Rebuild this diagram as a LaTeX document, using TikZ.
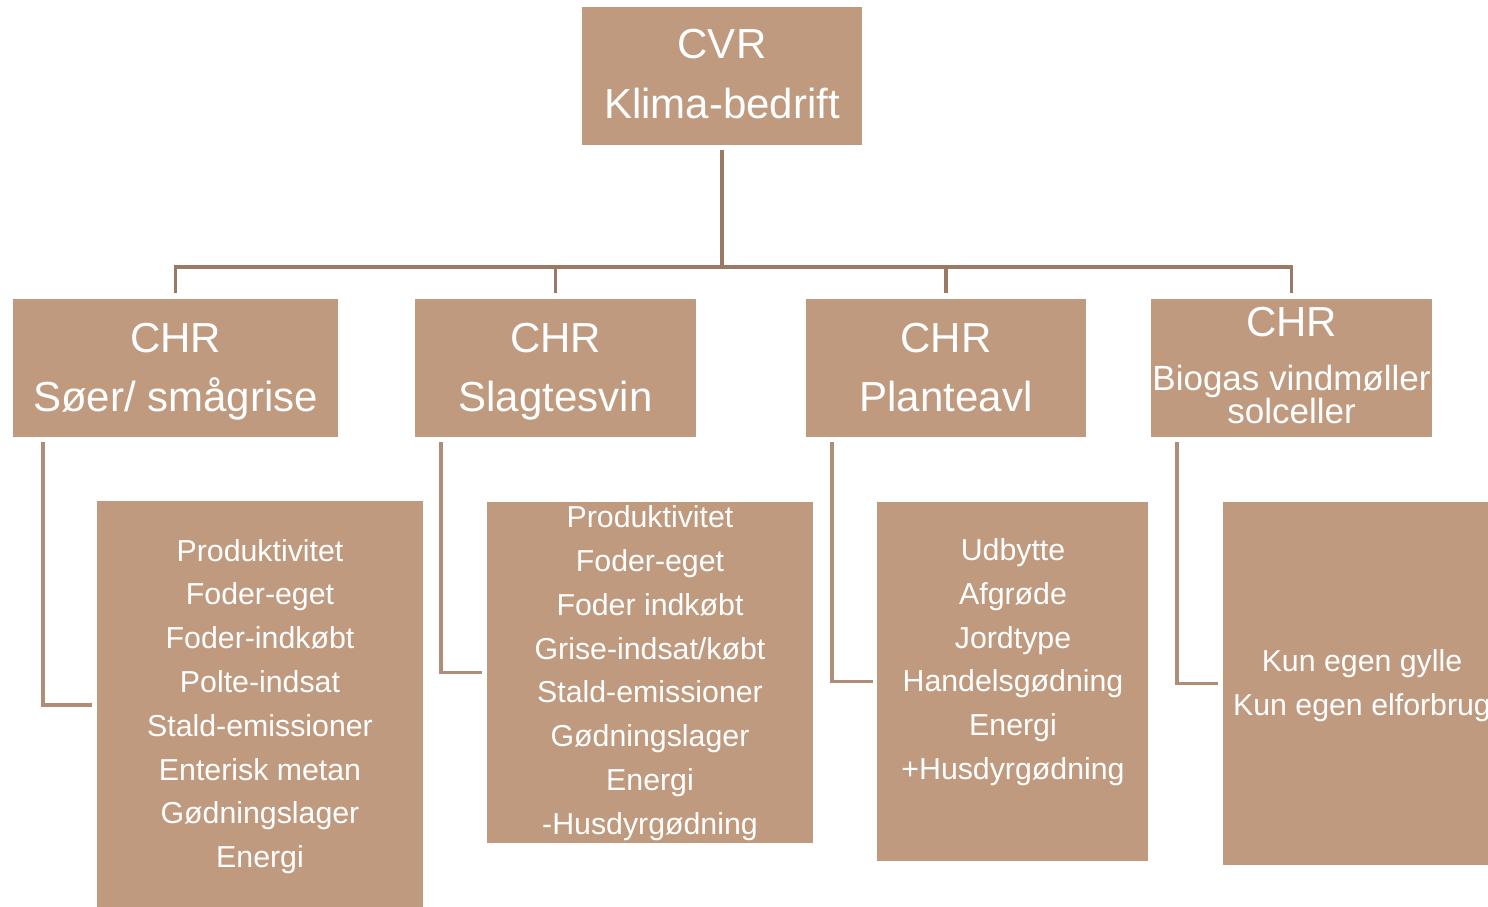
\documentclass[tikz,border=0pt]{standalone}
\usepackage{fontspec}
\setmainfont{Liberation Sans}
\definecolor{boxfill}{HTML}{BF9A7F}
\definecolor{toplinec}{HTML}{9A7A64}
\definecolor{sidelinec}{HTML}{B08D76}
\tikzset{
 boxnode/.style={fill=boxfill, draw=none, inner sep=0pt, outer sep=0pt},
 txt/.style={text=white, inner sep=0pt, anchor=base},
 big/.style={txt, font=\fontsize{42}{49}\selectfont},
 mid/.style={txt, font=\fontsize{35}{40}\selectfont},
 small/.style={txt, font=\fontsize{30.3}{36}\selectfont},
 topline/.style={draw=toplinec, line width=3.5pt},
 sideline/.style={draw=sidelinec, line width=3.5pt},
}
\begin{document}
\begin{tikzpicture}[x=1pt,y=-1pt]
\useasboundingbox (0,0) rectangle (1488,906);
\clip (0,0) rectangle (1488,906);
% boxes
\node[boxnode, minimum width=280pt, minimum height=138pt] (cvr) at (722,76) {};
\node[boxnode, minimum width=325pt, minimum height=138pt] (chr1) at (175.5,368) {};
\node[boxnode, minimum width=281pt, minimum height=138pt] (chr2) at (555.5,368) {};
\node[boxnode, minimum width=280pt, minimum height=138pt] (chr3) at (946,368) {};
\node[boxnode, minimum width=281pt, minimum height=138pt] (chr4) at (1291.5,368) {};
\node[boxnode, minimum width=326pt, minimum height=408pt] (d1) at (260,705) {};
\node[boxnode, minimum width=325.5pt, minimum height=340.5pt] (d2) at (649.75,672.25) {};
\node[boxnode, minimum width=271pt, minimum height=359pt] (d3) at (1012.5,681.5) {};
\node[boxnode, minimum width=277pt, minimum height=363pt] (d4) at (1361.5,683.5) {};
% titles
\node[big] (cvrA) at (722,58.5) {CVR};
\node[big] (cvrB) at (722,118.5) {Klima-bedrift};
\node[big] (chr1A) at (175.5,352) {CHR};
\node[big] (chr1B) at (175.5,411) {Søer/ smågrise};
\node[big] (chr2A) at (555.5,352) {CHR};
\node[big] (chr2B) at (555.5,411) {Slagtesvin};
\node[big] (chr3A) at (946,352) {CHR};
\node[big] (chr3B) at (946,411) {Planteavl};
\node[big] (chr4A) at (1291.5,336) {CHR};
\node[mid] (chr4B) at (1291.5,390) {Biogas vindmøller};
\node[mid] (chr4C) at (1291.5,423.5) {solceller};
% lists
\foreach \t [count=\i] in {Produktivitet,Foder-eget,Foder-indkøbt,Polte-indsat,Stald-emissioner,Enterisk metan,Gødningslager,Energi}
  \node[small] (d1t\i) at (260,{561+(\i-1)*43.8}) {\t};
\foreach \t [count=\i] in {Produktivitet,Foder-eget,Foder indkøbt,Grise-indsat/købt,Stald-emissioner,Gødningslager,Energi,-Husdyrgødning}
  \node[small] (d2t\i) at (650,{527.5+(\i-1)*43.85}) {\t};
\foreach \t [count=\i] in {Udbytte,Afgrøde,Jordtype,Handelsgødning,Energi,+Husdyrgødning}
  \node[small] (d3t\i) at (1013,{560.5+(\i-1)*43.8}) {\t};
\node[small] (d4t1) at (1362,671) {Kun egen gylle};
\node[small] (d4t2) at (1362,715) {Kun egen elforbrug};
% connectors
\coordinate (bus) at (722,267);
\draw[topline] ([yshift=-5pt]cvr.south) -- (bus);
\draw[topline] ([yshift=6pt]chr1.north) |- (bus);
\draw[topline] ([yshift=6pt]chr2.north) |- (bus);
\draw[topline] ([yshift=6pt]chr3.north) |- (bus);
\draw[topline] ([yshift=6pt]chr4.north) |- (bus);
\draw[sideline] ([xshift=30pt,yshift=-5pt]chr1.south west) |- ([xshift=-5pt]d1.west);
\draw[sideline] ([xshift=26pt,yshift=-5pt]chr2.south west) |- ([xshift=-5pt]d2.west);
\draw[sideline] ([xshift=26pt,yshift=-5pt]chr3.south west) |- ([xshift=-4pt]d3.west);
\draw[sideline] ([xshift=26pt,yshift=-5pt]chr4.south west) |- ([xshift=-5pt]d4.west);
\end{tikzpicture}
\end{document}
